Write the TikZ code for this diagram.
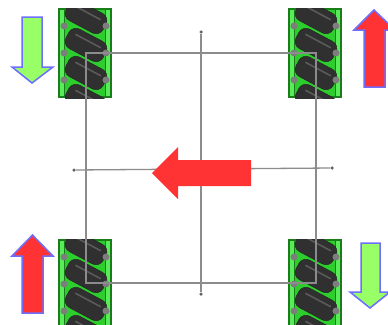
\documentclass[tikz,border=0pt]{standalone}
\definecolor{lgreen}{RGB}{153,255,102}
\definecolor{bblue}{RGB}{110,110,255}
\definecolor{rred}{RGB}{255,51,51}
\definecolor{lgray}{RGB}{140,140,140}
\definecolor{wgreen}{RGB}{45,205,45}
\definecolor{wlight}{RGB}{90,235,90}
\definecolor{wdark}{RGB}{25,125,25}
\definecolor{roller}{RGB}{48,48,48}
\definecolor{rollhi}{RGB}{90,90,90}
\definecolor{bolt}{RGB}{125,125,125}
\tikzset{
  frame/.style={draw=lgray, line width=1.3pt},
  enddot/.style={circle, fill=lgray!70!black, inner sep=0pt, minimum size=3.5pt},
  garrow/.style={fill=lgreen, draw=bblue, line width=1.5pt, line join=miter},
  rarrowb/.style={fill=rred, draw=bblue, line width=1.5pt, line join=miter},
  rarrow/.style={fill=rred},
  wheel/.pic={
    \fill[wdark] (-27,-45) rectangle (27,45);
    \fill[wgreen] (-20,-43) rectangle (20,43);
    \fill[wlight] (-25,-43) rectangle (-21,43);
    \fill[wlight] (21,-43) rectangle (25,43);
    \begin{scope}
      \clip (-27,-45) rectangle (27,45);
      \foreach \ry in {-36,-8,20,48} {
        \begin{scope}[shift={(1,\ry)}, rotate=-28]
          \filldraw[fill=roller, draw=black!85, line width=0.5pt, rounded corners=8pt] (-21,-11) rectangle (21,11);
          \draw[rollhi, line width=1.6pt, line cap=round] (-14,-4.5) -- (14,-4.5);
        \end{scope}
      }
    \end{scope}
    \foreach \by in {-27,0,27} {
      \fill[bolt] (-21,\by) circle (3.5);
      \fill[bolt] (21,\by) circle (3.5);
    }
  }
}
\begin{document}
\begin{tikzpicture}[x=1pt, y=-1pt]
\useasboundingbox (0,0) rectangle (388,324);
\fill[white] (0,0) rectangle (388,324);
\clip (0,0) rectangle (388,324);

% wheels
\pic at (85,53) {wheel};
\pic at (315,53) {wheel};
\pic at (85,284) {wheel};
\pic at (315,284) {wheel};

% frame
\coordinate (tl) at (86,53);
\coordinate (tr) at (316,53);
\coordinate (br) at (316,283);
\coordinate (bl) at (86,283);
\node[enddot] (vt) at (201,32) {};
\node[enddot] (vb) at (201,294) {};
\node[enddot] (hl) at (74,170) {};
\node[enddot] (hr) at (332,168) {};
\draw[frame] (tl) -- (tr) -- (br) -- (bl) -- cycle;
\draw[frame] (vt) -- (vb);
\draw[frame] (hl) -- (hr);

% arrows
\draw[garrow] (22,17) -- (42,17) -- (42,67) -- (53,67) -- (32,83) -- (12,67) -- (22,67) -- cycle;
\draw[rarrowb] (22,313) -- (43,313) -- (43,256) -- (53,256) -- (32.5,235) -- (12,256) -- (22,256) -- cycle;
\draw[rarrowb] (364,87) -- (385,87) -- (385,30) -- (395,30) -- (374,10) -- (354,30) -- (364,30) -- cycle;
\draw[garrow] (361,243) -- (380,243) -- (380,292) -- (390,292) -- (370,308) -- (350,292) -- (361,292) -- cycle;
\fill[rarrow] (251,160) -- (251,186) -- (178,186) -- (178,199) -- (152,173) -- (178,147) -- (178,160) -- cycle;
\end{tikzpicture}
\end{document}
